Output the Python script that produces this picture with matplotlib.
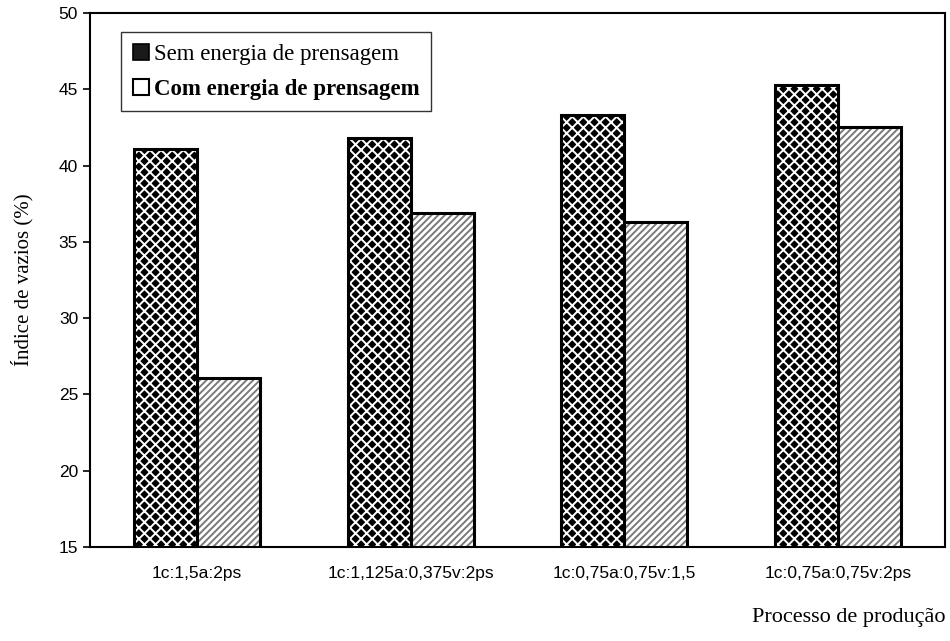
import matplotlib.pyplot as plt
import numpy as np
from matplotlib.patches import Patch

plt.rcParams["hatch.linewidth"] = 1.4

categories = ["1c:1,5a:2ps", "1c:1,125a:0,375v:2ps", "1c:0,75a:0,75v:1,5", "1c:0,75a:0,75v:2ps"]
sem_energia = [41.1, 41.8, 43.3, 45.3]
com_energia = [26.1, 36.9, 36.3, 42.5]
y_ticks = [15, 20, 25, 30, 35, 40, 45, 50]
series_names = ["Sem energia de prensagem", "Com energia de prensagem"]

serif = "Liberation Serif"
sans = "Liberation Sans"

fig = plt.figure(figsize=(9.5, 6.41), dpi=100)
ax = fig.add_axes([0.0947, 0.1466, 0.9, 0.8331])

x = np.arange(len(categories))
w = 0.295
# dark checkered bars: white crossing hatch over a black face
ax.bar(x - w / 2, sem_energia, w, facecolor="black", edgecolor="white",
       hatch="xxx", linewidth=0)
ax.bar(x - w / 2, sem_energia, w, fill=False, edgecolor="black", linewidth=2.2)
# light bars: thin grey diagonal lines on white
ax.bar(x + w / 2, com_energia, w, facecolor="white", edgecolor="#7a7a7a",
       hatch="/////", linewidth=0)
ax.bar(x + w / 2, com_energia, w, fill=False, edgecolor="black", linewidth=2.2)

ax.set_xlim(-0.5, len(categories) - 0.5)
ax.set_ylim(15, 50)
ax.set_yticks(y_ticks)
ax.set_xticks(x)
ax.set_xticklabels(categories, fontsize=12.5, fontfamily=sans)
ax.set_yticklabels([str(t) for t in y_ticks], fontsize=12.5, fontfamily=sans)
ax.tick_params(axis="x", length=0, pad=14)
ax.tick_params(axis="y", direction="out", length=5, width=1.2)
for s in ax.spines.values():
    s.set_linewidth(1.5)

ax.set_ylabel("Índice de vazios (%)", fontsize=15, fontfamily=serif, labelpad=18)
fig.text(0.995, 0.03, "Processo de produção", fontsize=16, fontfamily=serif, ha="right")

handles = [Patch(facecolor="#1a1a1a", edgecolor="black", linewidth=1.2),
           Patch(facecolor="white", edgecolor="black", linewidth=1.5)]
leg = ax.legend(handles, series_names, loc="upper left", bbox_to_anchor=(0.023, 0.985),
                prop={"family": serif, "size": 16.5}, frameon=True, fancybox=False,
                edgecolor="black", handlelength=0.7, handleheight=0.7,
                handletextpad=0.25, borderpad=0.5, labelspacing=0.6)
leg.get_frame().set_linewidth(1.0)
leg.get_texts()[1].set_fontweight("bold")

fig.savefig("out.png", dpi=100)
